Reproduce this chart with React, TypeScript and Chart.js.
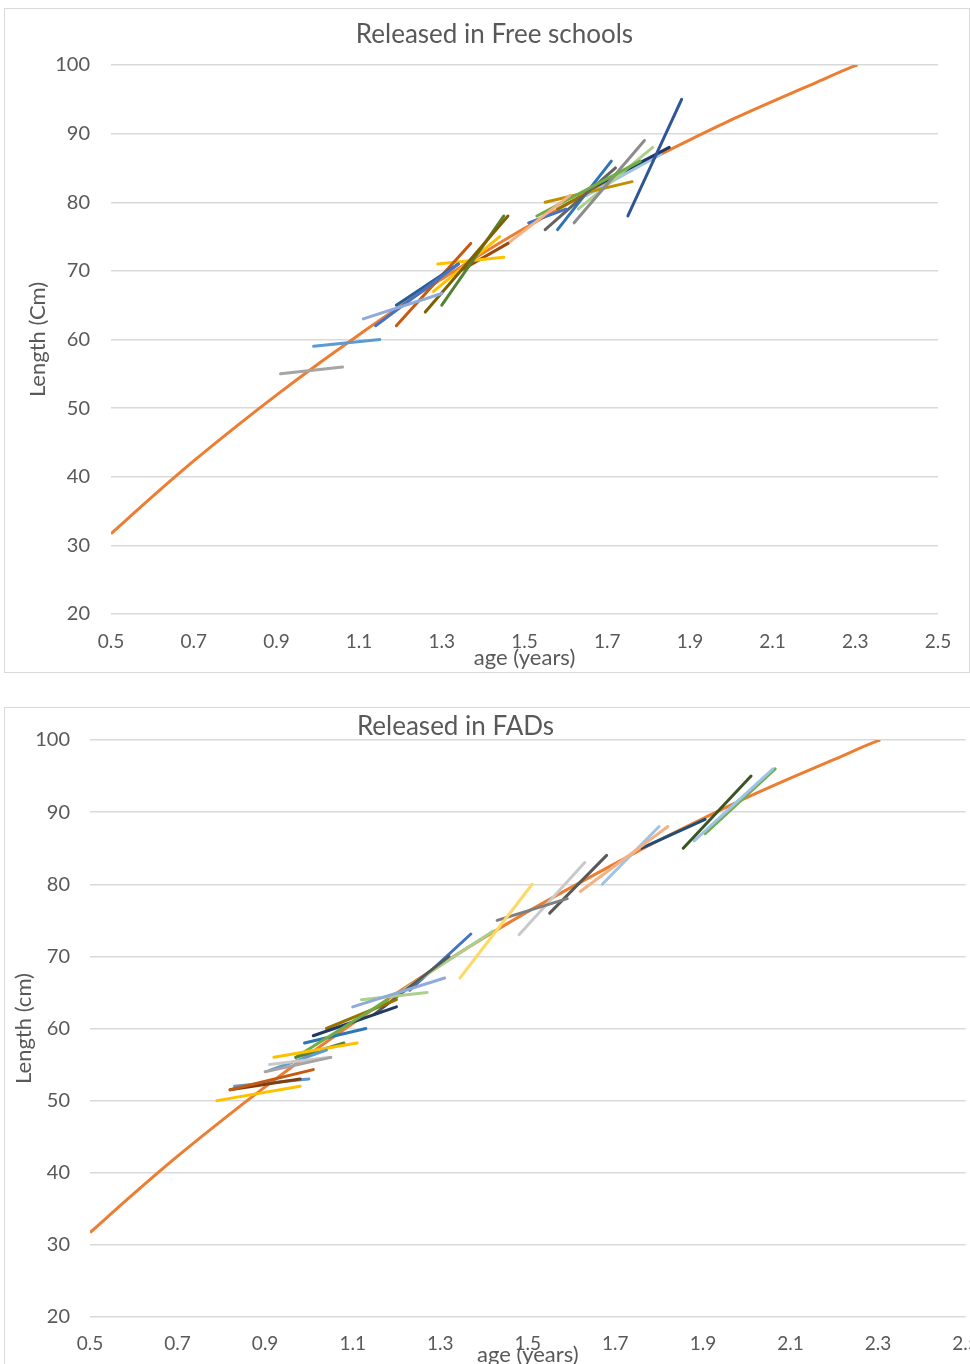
import React, { useEffect, useRef } from "react";
import { Chart, registerables } from "chart.js";

Chart.register(...registerables);

// ---- shared axis ticks ----
const xTickValues = [0.5, 0.7, 0.9, 1.1, 1.3, 1.5, 1.7, 1.9, 2.1, 2.3, 2.5];
const xTickLabels = ["0.5", "0.7", "0.9", "1.1", "1.3", "1.5", "1.7", "1.9", "2.1", "2.3", "2.5"];

// ---- fitted growth curve (orange) ----
const curveAges = [0.5, 0.6, 0.7, 0.8, 0.9, 1.0, 1.1, 1.2, 1.3, 1.4, 1.5, 1.6, 1.7, 1.8, 1.9, 2.0, 2.1, 2.2, 2.3, 2.305];
const curveLengths = [31.7, 37.1, 42.3, 47.2, 51.9, 56.4, 60.7, 64.9, 68.8, 72.6, 76.2, 79.6, 82.9, 86.1, 89.1, 92.0, 94.7, 97.3, 99.9, 100];

// ---- Released in Free schools: individual fish segments ----
const freeStartAge = [0.91, 0.99, 1.11, 1.14, 1.19, 1.19, 1.26, 1.30, 1.29, 1.28, 1.33, 1.46, 1.51, 1.53, 1.55, 1.58, 1.62, 1.55, 1.63, 1.75, 1.66, 1.65, 1.58];
const freeEndAge = [1.06, 1.15, 1.30, 1.34, 1.34, 1.37, 1.46, 1.45, 1.45, 1.44, 1.46, 1.61, 1.60, 1.78, 1.72, 1.71, 1.79, 1.76, 1.81, 1.88, 1.85, 1.83, 1.76];
const freeStartLen = [55, 59, 63, 62, 65, 62, 64, 65, 71, 67, 69.5, 74, 77, 78, 76, 76, 77, 80, 79, 78, 82, 81, 79];
const freeEndLen = [56, 60, 66.7, 71, 71, 74, 78, 78, 72, 75, 74, 81, 79, 86, 85, 86, 89, 83, 88, 95, 88, 87, 85];
const freeColors = ["#A5A5A5", "#5B9BD5", "#8FAADC", "#4472C4", "#255E91", "#C55A11", "#7F6000", "#548235", "#FFC000", "#FFC000", "#9E480E", "#F4B183", "#4472C4", "#70AD47", "#636363", "#2E75B6", "#8C8C8C", "#BF9000", "#A9D18E", "#2F5597", "#203864", "#9DC3E6", "#997300"];

// ---- Released in FADs: individual fish segments ----
const fadStartAge = [0.79, 0.82, 0.82, 0.83, 0.90, 0.91, 0.91, 0.92, 0.97, 0.97, 0.99, 1.01, 1.04, 1.10, 1.12, 1.15, 1.22, 1.23, 1.345, 1.43, 1.48, 1.55, 1.62, 1.67, 1.76, 1.855, 1.88, 1.905];
const fadEndAge = [0.98, 1.01, 0.98, 1.00, 1.05, 1.05, 1.04, 1.11, 1.08, 1.18, 1.13, 1.20, 1.20, 1.31, 1.27, 1.32, 1.42, 1.37, 1.51, 1.59, 1.63, 1.68, 1.82, 1.80, 1.905, 2.01, 2.06, 2.065];
const fadStartLen = [50, 51.5, 51.5, 52, 54, 55, 54.2, 56, 56, 56, 58, 59, 60, 63, 64, 62, 65.5, 65.3, 67, 75, 73, 76, 79, 80, 85, 85, 86, 87];
const fadEndLen = [52, 54.3, 53, 53, 56, 56, 57, 58, 58, 64, 60, 63, 64, 67, 65, 70, 73.5, 73.1, 80, 78, 83, 84, 88, 88, 89, 95, 96, 96];
const fadColors = ["#FFC000", "#C55A11", "#843C0C", "#5B9BD5", "#A5A5A5", "#C9C9C9", "#5B9BD5", "#FFC000", "#548235", "#70AD47", "#2E75B6", "#203864", "#997300", "#8FAADC", "#A9D18E", "#595959", "#A9D18E", "#4472C4", "#FFD966", "#7F7F7F", "#C9C9C9", "#595959", "#F4B183", "#9DC3E6", "#1F4E79", "#375623", "#9DC3E6", "#70AD47"];

const FONT = "Lato, 'Open Sans', sans-serif";
const TEXT = "#595959";
const GRID = "#d9d9d9";

const panelTitle = {
  id: "panelTitle",
  afterDraw(chart: any, _args: any, opts: any) {
    const ctx = chart.ctx;
    ctx.save();
    ctx.font = `${opts.size}px ${FONT}`;
    ctx.fillStyle = TEXT;
    ctx.textAlign = "center";
    ctx.textBaseline = "middle";
    ctx.fillText(opts.text, opts.x, opts.y);
    ctx.restore();
  },
};

type PanelCfg = {
  title: string;
  titleX: number;
  titleY: number;
  yTitle: string;
  startAge: number[];
  endAge: number[];
  startLen: number[];
  endLen: number[];
  colors: string[];
  padTop: number;
  padRight: number;
  yWidth: number;
  yTickPad: number;
  yTitlePad: number;
  xHeight: number;
  xTickPad: number;
  xTitlePad: number;
};

function buildChart(canvas: HTMLCanvasElement, c: PanelCfg) {
  const datasets: any[] = [];
  for (let i = 0; i < c.startAge.length; i++) {
    datasets.push({
      data: [
        { x: c.startAge[i], y: c.startLen[i] },
        { x: c.endAge[i], y: c.endLen[i] },
      ],
      showLine: true,
      borderColor: c.colors[i],
      backgroundColor: c.colors[i],
      borderWidth: 3,
      borderCapStyle: "round",
      pointRadius: 0,
      order: 0,
    });
  }
  datasets.push({
    data: curveAges.map((a, i) => ({ x: a, y: curveLengths[i] })),
    showLine: true,
    borderColor: "#ED7D31",
    backgroundColor: "#ED7D31",
    borderWidth: 3,
    pointRadius: 0,
    cubicInterpolationMode: "monotone",
    order: 1,
  });

  return new Chart(canvas, {
    type: "scatter",
    data: { datasets },
    plugins: [panelTitle],
    options: {
      animation: false,
      responsive: false,
      devicePixelRatio: 1,
      layout: { padding: { top: c.padTop, right: c.padRight, left: 0, bottom: 0 } },
      plugins: {
        legend: { display: false },
        tooltip: { enabled: false },
        panelTitle: { text: c.title, x: c.titleX, y: c.titleY, size: 26 },
      } as any,
      scales: {
        x: {
          type: "linear",
          min: 0.5,
          max: 2.5,
          grid: { display: false, drawTicks: false },
          border: { display: false },
          afterBuildTicks: (scale: any) => {
            scale.ticks = xTickValues.map((v) => ({ value: v }));
          },
          afterFit: (scale: any) => {
            scale.height = c.xHeight;
            scale.paddingLeft = 0;
            scale.paddingRight = 0;
          },
          ticks: {
            autoSkip: false,
            maxRotation: 0,
            padding: c.xTickPad,
            color: TEXT,
            font: { family: FONT, size: 19 },
            callback: (_v: any, i: number) => xTickLabels[i],
          },
          title: {
            display: true,
            text: "age (years)",
            color: TEXT,
            font: { family: FONT, size: 22 },
            padding: { top: 0, bottom: c.xTitlePad },
          },
        },
        y: {
          type: "linear",
          min: 20,
          max: 100,
          grid: { color: GRID, lineWidth: 1.5, drawTicks: false },
          border: { display: false },
          afterFit: (scale: any) => {
            scale.width = c.yWidth;
            scale.paddingTop = 0;
            scale.paddingBottom = 0;
          },
          ticks: {
            stepSize: 10,
            padding: c.yTickPad,
            color: TEXT,
            font: { family: FONT, size: 20 },
          },
          title: {
            display: true,
            text: c.yTitle,
            color: TEXT,
            font: { family: FONT, size: 22 },
            padding: { top: c.yTitlePad, bottom: 0 },
          },
        },
      },
    },
  });
}

function Panel(props: { cfg: PanelCfg; left: number; top: number; width: number; height: number }) {
  const ref = useRef<HTMLCanvasElement | null>(null);
  useEffect(() => {
    if (!ref.current) return;
    const chart = buildChart(ref.current, props.cfg);
    return () => chart.destroy();
  }, []);
  return (
    <div
      style={{
        position: "absolute",
        left: props.left,
        top: props.top,
        width: props.width,
        height: props.height,
        boxSizing: "border-box",
        border: "1px solid #d9d9d9",
        background: "#fff",
      }}
    >
      <canvas ref={ref} width={props.width - 2} height={props.height - 2} style={{ display: "block" }} />
    </div>
  );
}

const freeCfg: PanelCfg = {
  title: "Released in Free schools",
  titleX: 489.5,
  titleY: 26,
  yTitle: "Length (Cm)",
  startAge: freeStartAge,
  endAge: freeEndAge,
  startLen: freeStartLen,
  endLen: freeEndLen,
  colors: freeColors,
  padTop: 56,
  padRight: 31,
  yWidth: 106,
  yTickPad: 21,
  yTitlePad: 19.8,
  xHeight: 58,
  xTickPad: 16,
  xTitlePad: 0.8,
};

const fadCfg: PanelCfg = {
  title: "Released in FADs",
  titleX: 450.5,
  titleY: 19,
  yTitle: "Length (cm)",
  startAge: fadStartAge,
  endAge: fadEndAge,
  startLen: fadStartLen,
  endLen: fadEndLen,
  colors: fadColors,
  padTop: 32,
  padRight: 47.4,
  yWidth: 85,
  yTickPad: 20,
  yTitlePad: 5.8,
  xHeight: 69,
  xTickPad: 15.2,
  xTitlePad: 17.8,
};

export default function App() {
  return (
    <div
      style={{
        position: "absolute",
        left: 0,
        top: 0,
        width: 970,
        height: 1364,
        overflow: "hidden",
        background: "#fff",
      }}
    >
      <Panel cfg={freeCfg} left={4} top={8} width={966} height={665} />
      <Panel cfg={fadCfg} left={4} top={707} width={1010} height={680} />
    </div>
  );
}
